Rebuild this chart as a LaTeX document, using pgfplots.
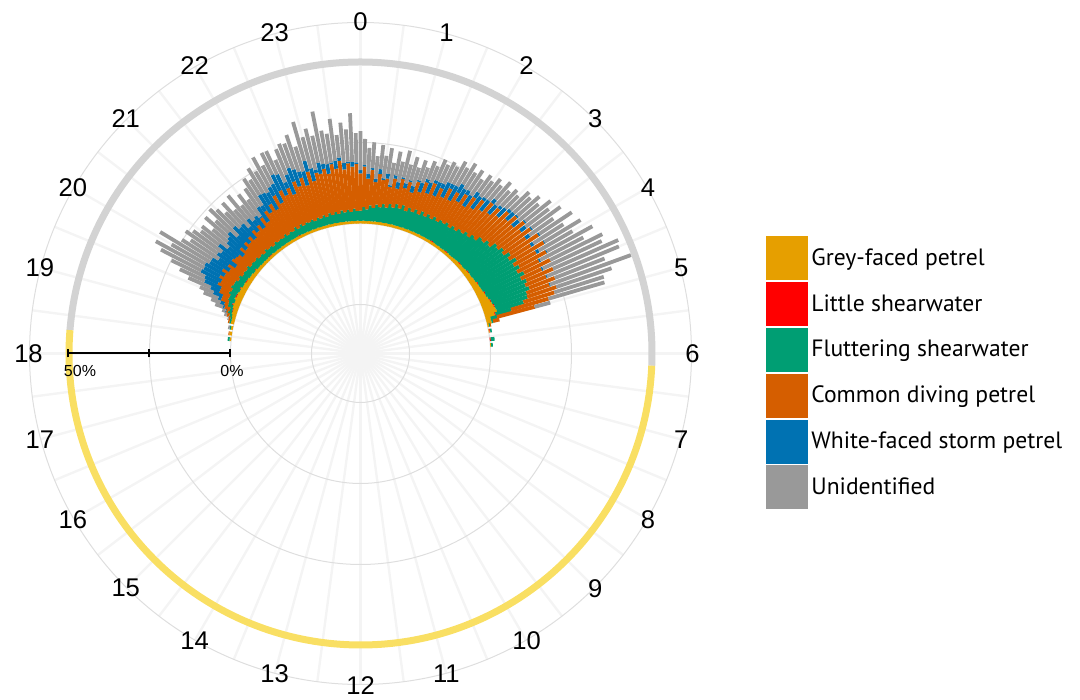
\documentclass[border=0pt]{standalone}
\usepackage{pgfplots}
\pgfplotsset{compat=1.18}
\usepackage{pgfplotstable}
\usepackage{fontspec}
\setmainfont{Liberation Sans}
\newfontfamily\legfont{PT Sans}
\definecolor{gfc}{HTML}{E69F00}
\definecolor{lsc}{HTML}{FF0000}
\definecolor{fsc}{HTML}{009E73}
\definecolor{cdc}{HTML}{D55E00}
\definecolor{wfc}{HTML}{0072B2}
\definecolor{unc}{HTML}{999999}
\definecolor{ringgrey}{HTML}{D3D3D3}
\definecolor{ringyel}{HTML}{F9DF63}
\definecolor{gridc}{HTML}{DEDEDE}
\definecolor{spokec}{HTML}{F4F4F4}
% m = minutes after midnight (values > 1440 are after the next midnight); values in % of detections
\pgfplotstableread{
m GF LS FS CD WF U
1105 0.5 0 0.6 0 0 0
1115 0.8 0 0 0.3 0 0
1125 0.6 0 0.4 0 0 0.5
1135 1.0 0 0.5 0.4 0 0
1140 1.0 0 0.5 0.5 0 0.3
1145 1.2 0 0.8 0.8 0 0.8
1150 1.5 0 1.2 0.6 0.3 1.0
1155 1.4 0.2 0.8 1.8 0.5 2.5
1160 1.8 0 1.6 1.2 1.3 3.0
1165 2.0 0.3 1.2 2.5 1.0 4.8
1170 1.8 0 2.2 2.0 3.0 4.5
1175 2.3 0 1.6 3.5 3.0 7.5
1180 1.9 0.3 2.4 2.8 5.5 8.5
1185 2.1 0 2.0 4.8 4.5 11.5
1190 1.8 0 3.0 3.5 7.0 14.0
1195 2.0 0.2 2.2 5.0 5.5 17.0
1200 1.6 0 2.8 3.8 7.0 12.0
1205 1.7 0 2.0 6.0 4.5 18.0
1210 1.4 0.2 2.6 3.5 6.5 11.0
1215 1.6 0 1.8 5.5 3.5 10.5
1220 1.3 0 2.4 3.0 7.0 12.0
1225 1.4 0 2.0 5.5 4.0 11.0
1230 1.1 0 2.8 4.5 6.5 7.0
1235 1.3 0.2 1.6 5.0 4.0 10.5
1240 1.0 0 2.4 3.5 6.5 6.0
1245 1.1 0 2.0 6.0 5.0 9.5
1250 0.9 0 2.6 4.0 7.5 5.5
1255 1.0 0 1.8 6.5 3.0 12.0
1260 0.9 0 2.2 5.0 7.0 7.5
1265 1.0 0 1.6 7.0 4.0 6.5
1270 0.8 0.2 2.4 4.5 6.0 9.0
1275 1.0 0 1.8 7.5 1.5 7.0
1280 0.8 0 2.2 6.0 5.0 9.5
1285 0.9 0 1.6 8.0 2.0 6.0
1290 0.8 0 2.4 5.5 4.5 8.5
1295 0.9 0 1.8 9.0 0.5 6.5
1300 0.8 0 2.2 6.5 5.5 7.0
1305 0.9 0 1.8 10.0 2.0 10.0
1310 0.8 0 2.6 8.0 6.5 5.5
1315 0.9 0 1.8 11.0 4.0 9.0
1320 0.8 0 2.4 8.0 6.0 7.5
1325 0.9 0 2.0 12.5 3.0 10.5
1330 0.8 0.2 2.8 8.5 6.5 6.5
1335 0.9 0 2.0 13.0 5.5 7.5
1340 0.8 0 3.0 10.0 7.0 8.0
1345 0.9 0 2.2 12.5 2.0 7.5
1350 0.8 0 2.8 9.5 6.5 8.5
1355 0.9 0 2.4 13.5 4.5 8.0
1360 0.8 0 3.0 11.0 5.5 8.5
1365 0.9 0 2.2 14.0 2.0 12.0
1370 0.8 0 3.0 10.5 4.5 8.0
1375 0.9 0 2.4 15.0 3.5 12.5
1380 0.8 0 3.2 11.0 4.0 10.0
1385 0.9 0 2.4 14.0 1.0 13.0
1390 0.8 0 3.4 12.5 3.5 8.5
1395 0.9 0 2.6 14.5 1.5 16.5
1400 0.8 0 3.4 12.0 3.0 10.5
1405 0.9 0 2.6 15.5 0.5 9.0
1410 0.8 0 3.6 13.0 2.5 13.0
1415 0.9 0 2.8 16.0 1.0 7.0
1420 0.8 0 3.6 12.5 2.0 12.5
1425 0.9 0 2.8 15.0 0.5 10.0
1430 0.8 0 3.8 13.0 1.5 15.0
1435 0.9 0 3.0 14.5 0.5 9.0
1440 0.8 0 3.2 11.5 1.0 12.0
1445 0.9 0 4.2 12.5 0.5 8.0
1450 0.8 0 3.6 9.5 1.5 8.0
1455 0.9 0 4.8 11.0 0.5 8.0
1460 0.8 0 4.2 8.0 1.0 7.0
1465 0.9 0 5.2 9.5 1.5 7.5
1470 0.8 0 4.6 8.5 0.5 7.0
1475 0.9 0 5.6 8.0 1.5 8.0
1480 0.8 0 4.8 6.5 0.5 7.0
1485 0.9 0 6.0 8.0 1.0 7.5
1490 0.8 0 5.2 6.0 2.0 6.5
1495 0.9 0 6.4 8.0 0.5 8.5
1500 0.8 0 5.4 6.5 1.5 6.0
1505 0.9 0 6.6 7.5 0.5 7.5
1510 0.8 0 5.2 6.0 2.0 6.0
1515 0.9 0 6.4 8.5 0.5 6.5
1520 0.8 0 5.6 6.5 3.0 5.0
1525 0.9 0 6.6 9.0 1.0 6.0
1530 0.8 0 5.6 7.0 3.5 5.5
1535 0.9 0 6.8 9.5 1.0 7.0
1540 0.8 0 5.8 7.0 4.5 6.0
1545 0.9 0 6.8 9.0 1.5 7.5
1550 0.8 0 6.0 7.5 5.0 5.5
1555 0.9 0 7.0 10.0 1.5 8.0
1560 0.8 0 6.2 7.5 5.0 6.5
1565 0.9 0 7.0 10.0 3.0 7.5
1570 0.8 0.3 6.4 8.0 4.5 6.0
1575 0.9 0 7.4 10.5 1.5 7.5
1580 0.8 0 6.6 8.0 4.0 6.0
1585 0.9 0 7.6 11.0 2.0 6.5
1590 0.8 0 7.0 8.5 4.5 6.0
1595 0.9 0 8.0 11.5 1.0 7.5
1600 0.8 0.3 7.4 9.0 4.0 6.0
1605 1.0 0 8.6 12.0 1.5 7.0
1610 0.9 0 8.0 9.5 3.5 6.0
1615 1.0 0 9.2 11.5 1.0 7.0
1620 1.1 0 8.6 10.0 3.5 5.5
1625 1.2 0 10.2 11.5 1.0 8.0
1630 1.1 0.3 9.6 10.0 3.0 7.0
1635 1.3 0 11.0 11.5 0.5 9.0
1640 1.2 0 10.4 9.5 2.5 8.0
1645 1.4 0 12.2 11.0 0.5 10.0
1650 1.4 0.3 11.4 9.0 2.0 9.0
1655 1.6 0 12.8 10.5 0.5 11.0
1660 1.5 0 12.0 8.5 1.5 9.0
1665 1.7 0 13.6 10.5 0.5 12.0
1670 1.7 0 12.4 8.0 1.0 11.0
1675 1.9 0.3 13.8 10.0 0.3 13.0
1680 2.0 0 12.4 8.0 1.0 12.0
1685 2.1 0 13.6 9.5 0.3 16.0
1690 2.2 0 12.2 7.5 0.5 15.0
1695 2.4 0.3 13.4 9.0 0 18.0
1700 2.5 0 12.0 7.0 0.5 20.0
1705 2.8 0 13.0 9.0 0 22.0
1710 3.0 0.3 11.6 7.0 0.3 24.0
1715 3.3 0 12.4 8.5 0 16.5
1720 3.5 0.3 10.6 7.5 0.3 26.5
1725 3.8 0 10.4 9.5 0 18.0
1730 4.0 0 8.6 10.0 0 16.0
1735 3.0 0.3 5.0 12.0 0 18.0
1740 1.5 0 2.0 12.0 0 5.0
1745 1.5 0 0.5 2.0 0 0
1750 0.5 0 0.3 0.3 0 0
1760 0.3 0.2 0.5 0 0 0
1775 0 0.3 1.2 0 0 0
1785 0.3 0 0.5 0 0 0
}\birds
\def\Rz{130}
\def\K{3.24}
\begin{document}
\begin{tikzpicture}
\begin{axis}[
  scale only axis, width=540pt, height=350pt,
  xmin=-360.5, xmax=719.5, ymin=-346.5, ymax=353.5,
  hide axis, clip=false,
  legend style={at={(axis cs:405.5,117.5)}, anchor=north west, draw=none, fill=none,
    inner sep=0pt, row sep=0.9pt, font=\legfont\fontsize{11.8}{13}\selectfont,
    nodes={inner sep=1.5pt}},
  legend cell align=left,
  legend image code/.code={\fill[#1, draw=none] (0pt,-11pt) rectangle (21pt,11pt);},
]
\addlegendimage{fill=gfc, draw=none}\addlegendentry{Grey-faced petrel}
\addlegendimage{fill=lsc, draw=none}\addlegendentry{Little shearwater}
\addlegendimage{fill=fsc, draw=none}\addlegendentry{Fluttering shearwater}
\addlegendimage{fill=cdc, draw=none}\addlegendentry{Common diving petrel}
\addlegendimage{fill=wfc, draw=none}\addlegendentry{White-faced storm petrel}
\addlegendimage{fill=unc, draw=none}\addlegendentry{Unidentified}
% grid
\pgfplotsinvokeforeach{0,7.5,...,352.5}{
  \draw[spokec, line width=1.2pt] (axis cs:0,0) -- (axis cs:{331*sin(#1)},{331*cos(#1)});
}
\draw[gridc, line width=0.5pt] (axis cs:0,0) circle[radius=24.5pt];
\draw[gridc, line width=0.5pt] (axis cs:0,0) circle[radius=65pt];
\draw[gridc, line width=0.5pt] (axis cs:0,0) circle[radius=105.5pt];
\draw[gridc, line width=0.5pt] (axis cs:0,0) circle[radius=145.75pt];
\draw[gridc, line width=0.5pt] (axis cs:0,0) circle[radius=165.5pt];
% stacked radial bars
\addplot[forget plot, gfc, line width=1.9pt, quiver={u={\K*\thisrow{GF}*sin(\thisrow{m}/4)}, v={\K*\thisrow{GF}*cos(\thisrow{m}/4)}}]
  table[x expr={\Rz*sin(\thisrow{m}/4)}, y expr={\Rz*cos(\thisrow{m}/4)}] {\birds};
\addplot[forget plot, lsc, line width=1.9pt, quiver={u={\K*\thisrow{LS}*sin(\thisrow{m}/4)}, v={\K*\thisrow{LS}*cos(\thisrow{m}/4)}}]
  table[x expr={(\Rz+\K*\thisrow{GF})*sin(\thisrow{m}/4)}, y expr={(\Rz+\K*\thisrow{GF})*cos(\thisrow{m}/4)}] {\birds};
\addplot[forget plot, fsc, line width=1.9pt, quiver={u={\K*\thisrow{FS}*sin(\thisrow{m}/4)}, v={\K*\thisrow{FS}*cos(\thisrow{m}/4)}}]
  table[x expr={(\Rz+\K*(\thisrow{GF}+\thisrow{LS}))*sin(\thisrow{m}/4)}, y expr={(\Rz+\K*(\thisrow{GF}+\thisrow{LS}))*cos(\thisrow{m}/4)}] {\birds};
\addplot[forget plot, cdc, line width=1.9pt, quiver={u={\K*\thisrow{CD}*sin(\thisrow{m}/4)}, v={\K*\thisrow{CD}*cos(\thisrow{m}/4)}}]
  table[x expr={(\Rz+\K*(\thisrow{GF}+\thisrow{LS}+\thisrow{FS}))*sin(\thisrow{m}/4)}, y expr={(\Rz+\K*(\thisrow{GF}+\thisrow{LS}+\thisrow{FS}))*cos(\thisrow{m}/4)}] {\birds};
\addplot[forget plot, wfc, line width=1.9pt, quiver={u={\K*\thisrow{WF}*sin(\thisrow{m}/4)}, v={\K*\thisrow{WF}*cos(\thisrow{m}/4)}}]
  table[x expr={(\Rz+\K*(\thisrow{GF}+\thisrow{LS}+\thisrow{FS}+\thisrow{CD}))*sin(\thisrow{m}/4)}, y expr={(\Rz+\K*(\thisrow{GF}+\thisrow{LS}+\thisrow{FS}+\thisrow{CD}))*cos(\thisrow{m}/4)}] {\birds};
\addplot[forget plot, unc, line width=1.9pt, quiver={u={\K*\thisrow{U}*sin(\thisrow{m}/4)}, v={\K*\thisrow{U}*cos(\thisrow{m}/4)}}]
  table[x expr={(\Rz+\K*(\thisrow{GF}+\thisrow{LS}+\thisrow{FS}+\thisrow{CD}+\thisrow{WF}))*sin(\thisrow{m}/4)}, y expr={(\Rz+\K*(\thisrow{GF}+\thisrow{LS}+\thisrow{FS}+\thisrow{CD}+\thisrow{WF}))*cos(\thisrow{m}/4)}] {\birds};
% day / night ring
\draw[ringgrey, line width=3.5pt] (axis cs:{291.5*cos(175.4)},{291.5*sin(175.4)}) arc[start angle=175.4, end angle=-2.4, radius=145.75pt];
\draw[ringyel, line width=3.5pt] (axis cs:{291.5*cos(-2.4)},{291.5*sin(-2.4)}) arc[start angle=-2.4, end angle=-184.6, radius=145.75pt];
% hour labels
\pgfplotsinvokeforeach{0,...,23}{
  \node[inner sep=0pt, font=\fontsize{12.8}{14}\selectfont] at (axis cs:{332*sin(15*#1)},{332*cos(15*#1)}) {#1};
}
% scale bar
\draw[black, line width=1pt] (axis cs:-292.5,0) -- (axis cs:-130.5,0);
\draw[black, line width=1pt] (axis cs:-292.5,-4) -- (axis cs:-292.5,4);
\draw[black, line width=1pt] (axis cs:-211.5,-4) -- (axis cs:-211.5,4);
\draw[black, line width=1pt] (axis cs:-130.5,-4) -- (axis cs:-130.5,4);
\node[font=\fontsize{8}{9}\selectfont] at (axis cs:-280.5,-17) {50\%};
\node[font=\fontsize{8}{9}\selectfont] at (axis cs:-128.5,-17) {0\%};
\end{axis}
\pgfresetboundingbox
\path (current axis.south west) rectangle (current axis.north east);
\end{tikzpicture}
\end{document}
